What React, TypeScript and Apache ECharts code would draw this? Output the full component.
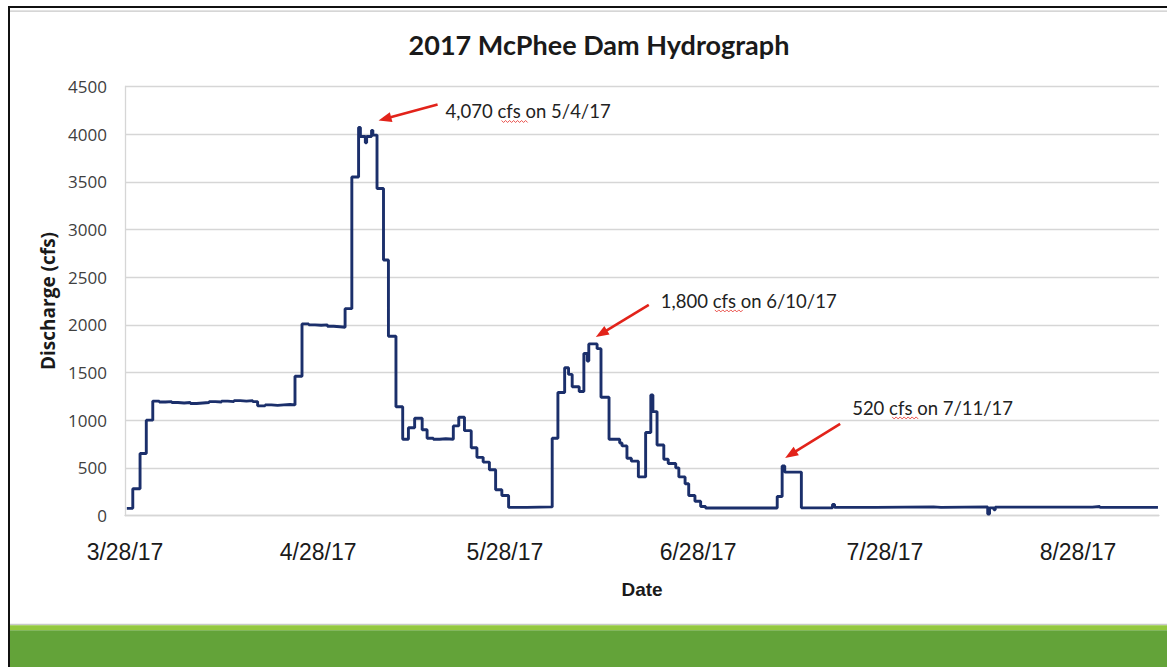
import React, { useEffect, useRef } from "react";
import * as echarts from "echarts";

// Release changes at McPhee Dam, 2017 (time "MM-DD HH", value in cfs that holds until the next change)
const changeTimes = [
  "03-28 07", "03-29 06", "03-30 10", "03-31 10", "04-01 11", "04-02 12", "04-03 12", "04-04 12",
  "04-05 12", "04-06 12", "04-07 12", "04-08 12", "04-09 12", "04-10 12", "04-11 12", "04-12 12",
  "04-13 12", "04-14 12", "04-15 12", "04-16 12", "04-17 12", "04-18 07", "04-19 12", "04-20 12",
  "04-21 12", "04-22 12", "04-23 12", "04-24 07", "04-25 10", "04-26 12", "04-27 12", "04-28 12",
  "04-29 12", "04-30 12", "05-01 12", "05-02 08", "05-03 10", "05-04 12", "05-04 19", "05-05 14",
  "05-05 19", "05-06 14", "05-06 19", "05-07 11", "05-08 12", "05-09 07", "05-10 12", "05-11 14",
  "05-12 12", "05-13 12", "05-14 17", "05-15 12", "05-16 12", "05-17 12", "05-18 12", "05-19 17",
  "05-20 14", "05-21 12", "05-22 14", "05-23 12", "05-24 12", "05-25 12", "05-26 12", "05-27 12",
  "05-28 14", "05-31 12", "06-04 14", "06-05 12", "06-06 14", "06-07 05", "06-07 19", "06-08 22",
  "06-09 16", "06-10 05", "06-10 11", "06-11 19", "06-12 10", "06-13 17", "06-15 10", "06-15 19",
  "06-16 14", "06-17 07", "06-18 10", "06-19 14", "06-20 10", "06-20 18", "06-21 10", "06-22 12",
  "06-23 05", "06-24 10", "06-24 22", "06-25 22", "06-26 12", "06-27 12", "06-28 10", "06-29 05",
  "07-10 17", "07-11 12", "07-11 22", "07-14 14", "07-19 14", "07-19 22", "07-26 12", "08-04 19",
  "08-06 00", "08-13 12", "08-13 19", "08-14 12", "08-14 17", "08-30 07", "08-31 12", "09-09 20",
];
const dischargeCfs = [
  75, 280, 650, 1000, 1200, 1190, 1195, 1185,
  1180, 1185, 1175, 1180, 1185, 1195, 1190, 1200,
  1195, 1205, 1200, 1205, 1195, 1150, 1160, 1155,
  1160, 1165, 1160, 1460, 2010, 2000, 1995, 2000,
  1985, 1980, 1975, 2170, 3550, 4070, 3975, 3910,
  3975, 4040, 3990, 3430, 2680, 1880, 1140, 800,
  920, 1020, 900, 810, 800, 805, 800, 940,
  1030, 890, 710, 610, 560, 480, 270, 210,
  85, 90, 810, 1290, 1550, 1480, 1350, 1300,
  1700, 1620, 1800, 1750, 1240, 800, 760, 730,
  600, 570, 405, 870, 1265, 1090, 740, 590,
  545, 500, 405, 333, 210, 150, 95, 78,
  200, 520, 455, 80, 115, 85, 90, 85,
  90, 15, 80, 60, 88, 95, 85, 85,
];

const xTickDates = ["3/28/17", "4/28/17", "5/28/17", "6/28/17", "7/28/17", "8/28/17"];
const xAxisEndDate = "9/10/17";

const annotationLabels = ["4,070 cfs on 5/4/17", "1,800 cfs on 6/10/17", "520 cfs on 7/11/17"];
const annotationTimes = ["05-04 12", "06-10 11", "07-11 12"];
const annotationValues = [4070, 1800, 520];

// pixel offsets (relative to the annotated peak) for arrow tip, arrow tail and text start
const annotationLayout = [
  { tip: [20, -7], tail: [79, -23], text: [87, -16], squiggle: [56, 82] },
  { tip: [7, -7], tail: [60, -39], text: [72, -43], squiggle: [54, 82] },
  { tip: [3, -8], tail: [58, -42], text: [70, -58], squiggle: [40, 66] },
];

const BASE = Date.UTC(2017, 2, 28);
const DAY = 86400000;
function timeToDay(t: string): number {
  const [md, h] = t.split(" ");
  const [m, d] = md.split("-").map(Number);
  return (Date.UTC(2017, m - 1, d, Number(h)) - BASE) / DAY;
}
function labelToDay(s: string): number {
  const [m, d] = s.split("/").map(Number);
  return (Date.UTC(2017, m - 1, d) - BASE) / DAY;
}

export default function App() {
  const ref = useRef<HTMLDivElement>(null);
  useEffect(() => {
    if (!ref.current) return;
    const chart = echarts.init(ref.current, undefined, { renderer: "svg" });
    const tickDays = xTickDates.map(labelToDay);
    const data = changeTimes.map((t, i) => [timeToDay(t), dischargeCfs[i]]);
    const gridColor = "#d6d6d6";

    chart.setOption({
      animation: false,
      backgroundColor: "#ffffff",
      title: {
        text: "2017 McPhee Dam Hydrograph",
        left: 594,
        top: 26,
        textAlign: "center",
        textStyle: { fontFamily: "Lato", fontWeight: "bold", fontSize: 27, color: "#1a1a1a" },
      },
      grid: { left: 125, right: 8, top: 86.5, bottom: 151.5, containLabel: false },
      xAxis: {
        type: "value",
        min: 0,
        max: labelToDay(xAxisEndDate),
        name: "Date",
        nameLocation: "middle",
        nameGap: 64,
        nameTextStyle: { fontFamily: "Liberation Sans", fontWeight: "bold", fontSize: 19, color: "#1a1a1a" },
        axisLine: { show: true, lineStyle: { color: gridColor, width: 1.3 } },
        axisTick: { show: false },
        splitLine: { show: false },
        axisLabel: {
          customValues: tickDays,
          margin: 25,
          fontFamily: "'Liberation Sans Narrow', 'Liberation Sans'",
          fontSize: 23,
          color: "#1a1a1a",
          formatter: (v: number) => {
            const i = tickDays.findIndex((d) => Math.abs(d - v) < 0.01);
            return i >= 0 ? xTickDates[i] : "";
          },
        },
      },
      yAxis: {
        type: "value",
        min: 0,
        max: 4500,
        interval: 500,
        name: "Discharge (cfs)",
        nameLocation: "middle",
        nameGap: 67,
        nameTextStyle: { fontFamily: "Open Sans", fontWeight: "bold", fontSize: 19, color: "#1a1a1a" },
        axisLine: { show: true, lineStyle: { color: gridColor, width: 1.3 } },
        axisTick: { show: false },
        splitLine: { show: true, lineStyle: { color: gridColor, width: 1.3 } },
        axisLabel: {
          margin: 18,
          fontFamily: "Open Sans",
          fontSize: 17,
          color: "#404040",
          formatter: (v: number) => String(v),
        },
      },
      series: [
        {
          type: "line",
          step: "end",
          data,
          showSymbol: false,
          lineStyle: { color: "#1b2f6b", width: 2.9 },
          z: 3,
        },
      ],
    });

    const red = "#e2231a";
    const graphics: any[] = [
      // slide frame
      { type: "rect", shape: { x: 8, y: 6, width: 1159, height: 2 }, style: { fill: "#111" }, z: 10 },
      { type: "rect", shape: { x: 8, y: 6, width: 2, height: 661 }, style: { fill: "#111" }, z: 10 },
      { type: "rect", shape: { x: 10, y: 10.5, width: 1157, height: 1.2 }, style: { fill: "#c8c8c8" }, z: 10 },
      // green footer
      { type: "rect", shape: { x: 10, y: 623.8, width: 1157, height: 1.5 }, style: { fill: "#c9c9c9" }, z: 10 },
      { type: "rect", shape: { x: 10, y: 625.3, width: 1157, height: 5 }, style: { fill: "#93c83f" }, z: 10 },
      { type: "rect", shape: { x: 10, y: 630.3, width: 1157, height: 37 }, style: { fill: "#63a339" }, z: 10 },
    ];

    annotationLabels.forEach((label, i) => {
      const p = chart.convertToPixel({ gridIndex: 0 }, [timeToDay(annotationTimes[i]), annotationValues[i]]) as number[];
      const L = annotationLayout[i];
      const tip = [p[0] + L.tip[0], p[1] + L.tip[1]];
      const tail = [p[0] + L.tail[0], p[1] + L.tail[1]];
      const dx = tip[0] - tail[0];
      const dy = tip[1] - tail[1];
      const len = Math.hypot(dx, dy);
      const ux = dx / len;
      const uy = dy / len;
      const nx = -uy;
      const ny = ux;
      const hl = 13;
      const hw = 5;
      graphics.push({
        type: "line",
        shape: { x1: tail[0], y1: tail[1], x2: tip[0] - ux * hl * 0.8, y2: tip[1] - uy * hl * 0.8 },
        style: { stroke: red, lineWidth: 2.6 },
        z: 20,
      });
      graphics.push({
        type: "polygon",
        shape: {
          points: [
            [tip[0], tip[1]],
            [tip[0] - ux * hl + nx * hw, tip[1] - uy * hl + ny * hw],
            [tip[0] - ux * hl - nx * hw, tip[1] - uy * hl - ny * hw],
          ],
        },
        style: { fill: red },
        z: 20,
      });
      const tx = p[0] + L.text[0];
      const ty = p[1] + L.text[1];
      graphics.push({
        type: "text",
        x: tx,
        y: ty,
        style: {
          text: label,
          fontFamily: "Lato",
          fontSize: 18.5,
          fill: "#222",
          textAlign: "left",
          textVerticalAlign: "middle",
        },
        z: 20,
      });
      const pts: number[][] = [];
      for (let x = tx + L.squiggle[0], k = 0; x <= tx + L.squiggle[1]; x += 2, k++) {
        pts.push([x, ty + 10 + (k % 2 === 0 ? -1 : 1)]);
      }
      graphics.push({
        type: "polyline",
        shape: { points: pts },
        style: { stroke: "#e8403a", lineWidth: 0.9, fill: null },
        z: 20,
      });
    });

    chart.setOption({ graphic: graphics });
    return () => chart.dispose();
  }, []);
  return (
    <div
      ref={ref}
      style={{ position: "fixed", left: 0, top: 0, width: 1167, height: 667, background: "#fff" }}
    />
  );
}
